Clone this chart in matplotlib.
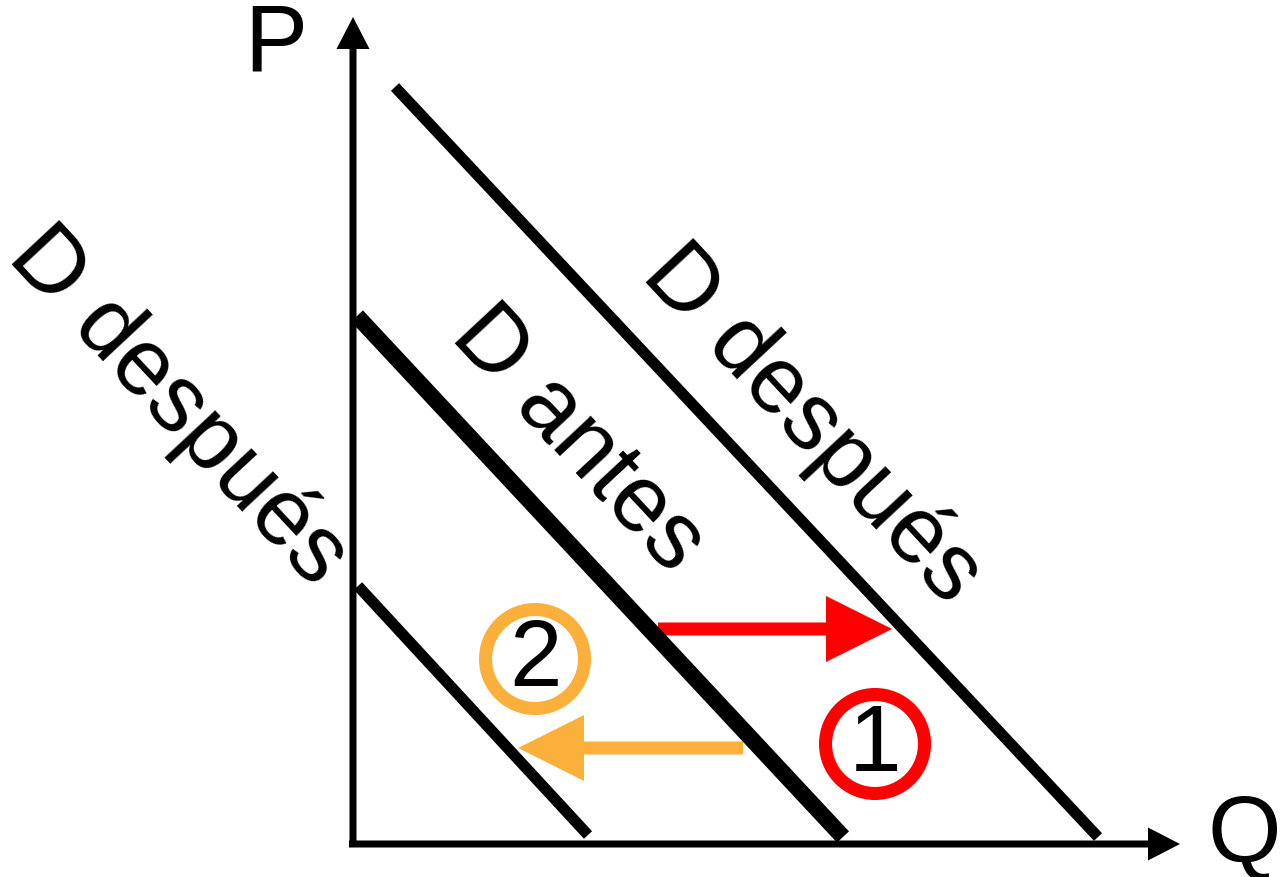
import matplotlib.pyplot as plt
from matplotlib.patches import Circle

# demand curves: upper "D después", "D antes", lower "D después"
curve_x_start = [395, 357, 358]
curve_y_start = [88, 317, 587]
curve_x_end = [1098, 843, 588]
curve_y_end = [838, 838, 836]
curve_lw = [8.0, 11.8, 8.0]

# curve labels
label_text = ["D después", "D antes", "D después"]
label_x = [812, 578, 178]
label_y = [425, 440, 407]

# shift arrows (start x, end x, y)
shift_x_start = [658, 743]
shift_x_end = [892, 518]
shift_y = [630, 749]
shift_color = ["#FF0000", "#FBB03B"]

# numbered circles
badge_text = ["1", "2"]
badge_x = [875, 535]
badge_y = [745, 660]
badge_color = ["#FF0000", "#FBB03B"]

origin = (353, 845)
x_tip = 1180
y_tip = 18

plt.rcParams['font.family'] = ['Liberation Sans', 'DejaVu Sans']

fig = plt.figure(figsize=(12.83, 8.78), dpi=100)
ax = fig.add_axes([0, 0, 1, 1])
ax.set_xlim(0, 1283)
ax.set_ylim(878, 0)
ax.axis('off')

# axes with arrow heads
ax.arrow(origin[0] - 4, origin[1], x_tip - origin[0] + 4, 0, width=7, head_width=33,
         head_length=32, length_includes_head=True, color='black', lw=0)
ax.arrow(origin[0], origin[1] + 3, 0, y_tip - origin[1] - 3, width=7, head_width=33,
         head_length=32, length_includes_head=True, color='black', lw=0)
ax.text(276, 46, "P", fontsize=68, ha='center', va='center')
ax.text(1244, 838, "Q", fontsize=68, ha='center', va='center')

for i in range(len(curve_x_start)):
    ax.plot([curve_x_start[i], curve_x_end[i]], [curve_y_start[i], curve_y_end[i]],
            color='black', lw=curve_lw[i], solid_capstyle='butt')

for i in range(len(label_text)):
    ax.text(label_x[i], label_y[i], label_text[i], fontsize=68, rotation=-47,
            rotation_mode='anchor', ha='center', va='center')

for i in range(len(shift_y)):
    ax.arrow(shift_x_start[i], shift_y[i], shift_x_end[i] - shift_x_start[i], 0,
             width=13, head_width=66, head_length=66, length_includes_head=True,
             color=shift_color[i], lw=0)

for i in range(len(badge_text)):
    ax.add_patch(Circle((badge_x[i], badge_y[i]), 49.5, fill=False,
                        edgecolor=badge_color[i], lw=9.4))
    ax.text(badge_x[i], badge_y[i] + 2, badge_text[i], fontsize=68, ha='center', va='center')

fig.savefig("out.png", dpi=100)
